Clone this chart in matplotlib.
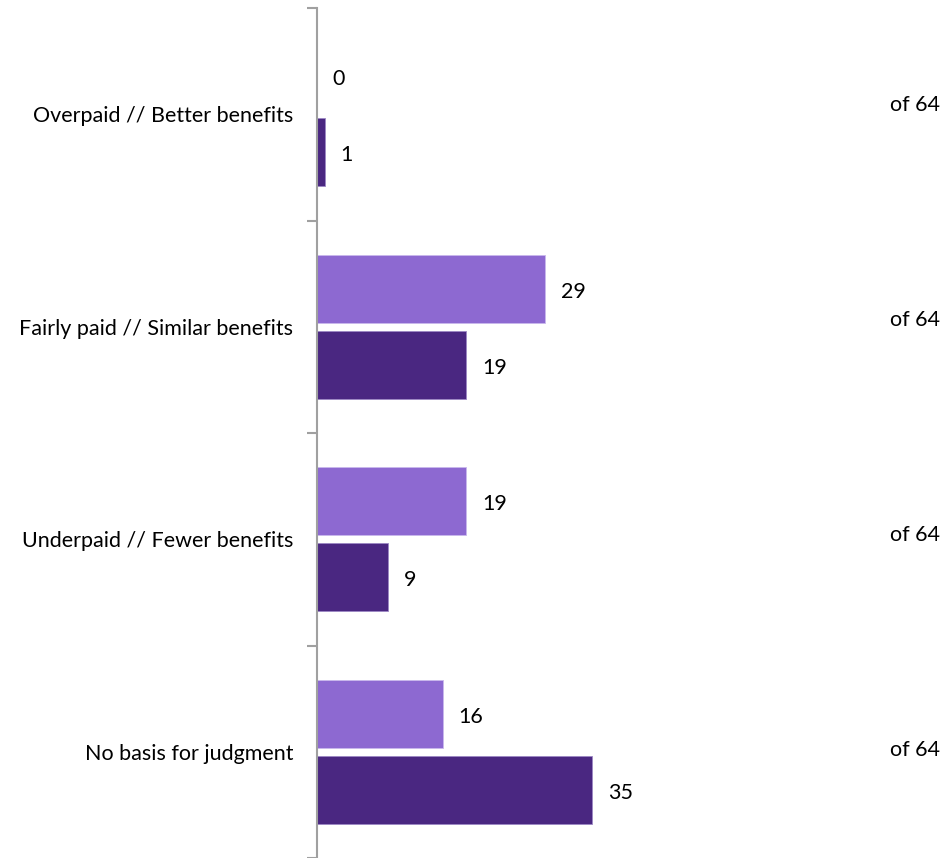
import matplotlib.pyplot as plt
import numpy as np

plt.rcParams['font.family'] = ['Lato', 'DejaVu Sans']

categories = ['Overpaid // Better benefits', 'Fairly paid // Similar benefits',
              'Underpaid // Fewer benefits', 'No basis for judgment']
light_vals = [0, 29, 19, 16]
dark_vals = [1, 19, 9, 35]
totals = ['of 64', 'of 64', 'of 64', 'of 64']

light_color = '#8D69D1'
dark_color = '#4A2781'
fs = 15.5

fig = plt.figure(figsize=(9.42, 8.58), dpi=100)
ax = fig.add_axes([317 / 942, 0, (860 - 317) / 942, 1 - 8 / 858])

y = np.arange(len(categories))
h = 0.32
off = 0.179
ax.barh(y - off, light_vals, height=h, color=light_color, edgecolor='#C9B8EC', linewidth=0.6)
ax.barh(y + off, dark_vals, height=h, color=dark_color, edgecolor='#9C88C4', linewidth=0.6)

ax.set_xlim(0, (860 - 317) / 7.86)
ax.set_ylim(len(categories) - 0.5, -0.5)

# value labels sit slightly below the bar centre, as in the original
dy = 0.015
for i, v in enumerate(light_vals):
    ax.text(v + 2.0, y[i] - off + dy, str(v), va='center', ha='left', fontsize=fs)
for i, v in enumerate(dark_vals):
    ax.text(v + 2.0, y[i] + off + dy, str(v), va='center', ha='left', fontsize=fs)

for i, t in enumerate(totals):
    ax.text(890 / 942, 1 - (y[i] * 215 + 105) / 858, t, transform=fig.transFigure,
            va='center', ha='left', fontsize=fs)

ax.set_yticks(y)
ax.set_yticklabels(categories, fontsize=fs)
ax.tick_params(axis='y', which='major', length=0, pad=17)
ax.set_yticks(np.arange(-0.5, len(categories)), minor=True)
ax.tick_params(axis='y', which='minor', length=7, width=1.5, color='#A0A0A0')
ax.set_xticks([])

for s in ['top', 'right', 'bottom']:
    ax.spines[s].set_visible(False)
ax.spines['left'].set_color('#A0A0A0')
ax.spines['left'].set_linewidth(1.5)

fig.savefig('out.png', dpi=100)
